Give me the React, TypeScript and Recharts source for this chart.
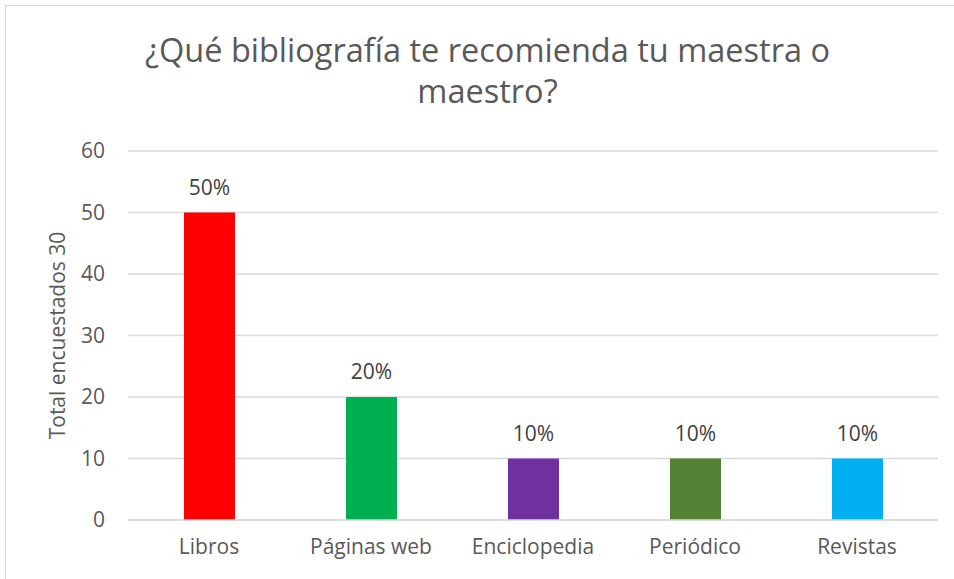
import { BarChart, Bar, XAxis, YAxis, CartesianGrid, Cell, LabelList, Label } from 'recharts'

const categories = ['Libros', 'Páginas web', 'Enciclopedia', 'Periódico', 'Revistas']
const values = [50, 20, 10, 10, 10]
const pctLabels = ['50%', '20%', '10%', '10%', '10%']
const colors = ['#FF0000', '#00B050', '#7030A0', '#548235', '#00B0F0']
const yTicks = [0, 10, 20, 30, 40, 50, 60]

const data = categories.map((name, i) => ({ name, value: values[i], pct: pctLabels[i] }))

const FONT = '"Open Sans", Lato, sans-serif'
const TEXT = '#595959'
const FS = 21

export default function App() {
  return (
    <div style={{ position: 'absolute', left: 0, top: 0, width: 954, height: 579, background: '#fff', overflow: 'hidden', fontFamily: FONT }}>
      {/* chart frame, runs off the right and bottom edge */}
      <div style={{ position: 'absolute', left: 5, top: 5, width: 1000, height: 700, border: '1px solid #d9d9d9' }} />
      <div
        style={{
          position: 'absolute',
          left: 0,
          top: 29,
          width: 975,
          textAlign: 'center',
          fontSize: 32.5,
          lineHeight: '41px',
          color: TEXT,
        }}
      >
        ¿Qué bibliografía te recomienda tu maestra o
        <br />
        maestro?
      </div>
      <div style={{ position: 'absolute', left: 0, top: 0 }}>
        <BarChart width={954} height={579} data={data} margin={{ top: 151, right: 16, left: 68, bottom: 29 }}>
          <CartesianGrid vertical={false} stroke="#d9d9d9" strokeWidth={1.3} />
          <XAxis
            dataKey="name"
            tickLine={false}
            tickSize={0}
            axisLine={{ stroke: '#d9d9d9', strokeWidth: 1.3 }}
            tick={{ fontSize: FS, fill: TEXT, fontFamily: FONT }}
            tickMargin={19}
            interval={0}
          />
          <YAxis
            domain={[0, 60]}
            ticks={yTicks}
            tickLine={false}
            tickSize={0}
            axisLine={false}
            tick={{ fontSize: FS, fill: TEXT, fontFamily: FONT }}
            width={60}
            tickMargin={23}
          >
            <Label
              value="Total encuestados 30"
              angle={-90}
              position="insideLeft"
              offset={-10}
              style={{ fontSize: FS, fill: TEXT, fontFamily: FONT, textAnchor: 'middle' }}
            />
          </YAxis>
          <Bar dataKey="value" barSize={51} isAnimationActive={false}>
            {data.map((d, i) => (
              <Cell key={d.name} fill={colors[i]} />
            ))}
            <LabelList dataKey="pct" position="top" offset={18} style={{ fontSize: FS, fill: '#404040', fontFamily: FONT }} />
          </Bar>
        </BarChart>
      </div>
    </div>
  )
}
